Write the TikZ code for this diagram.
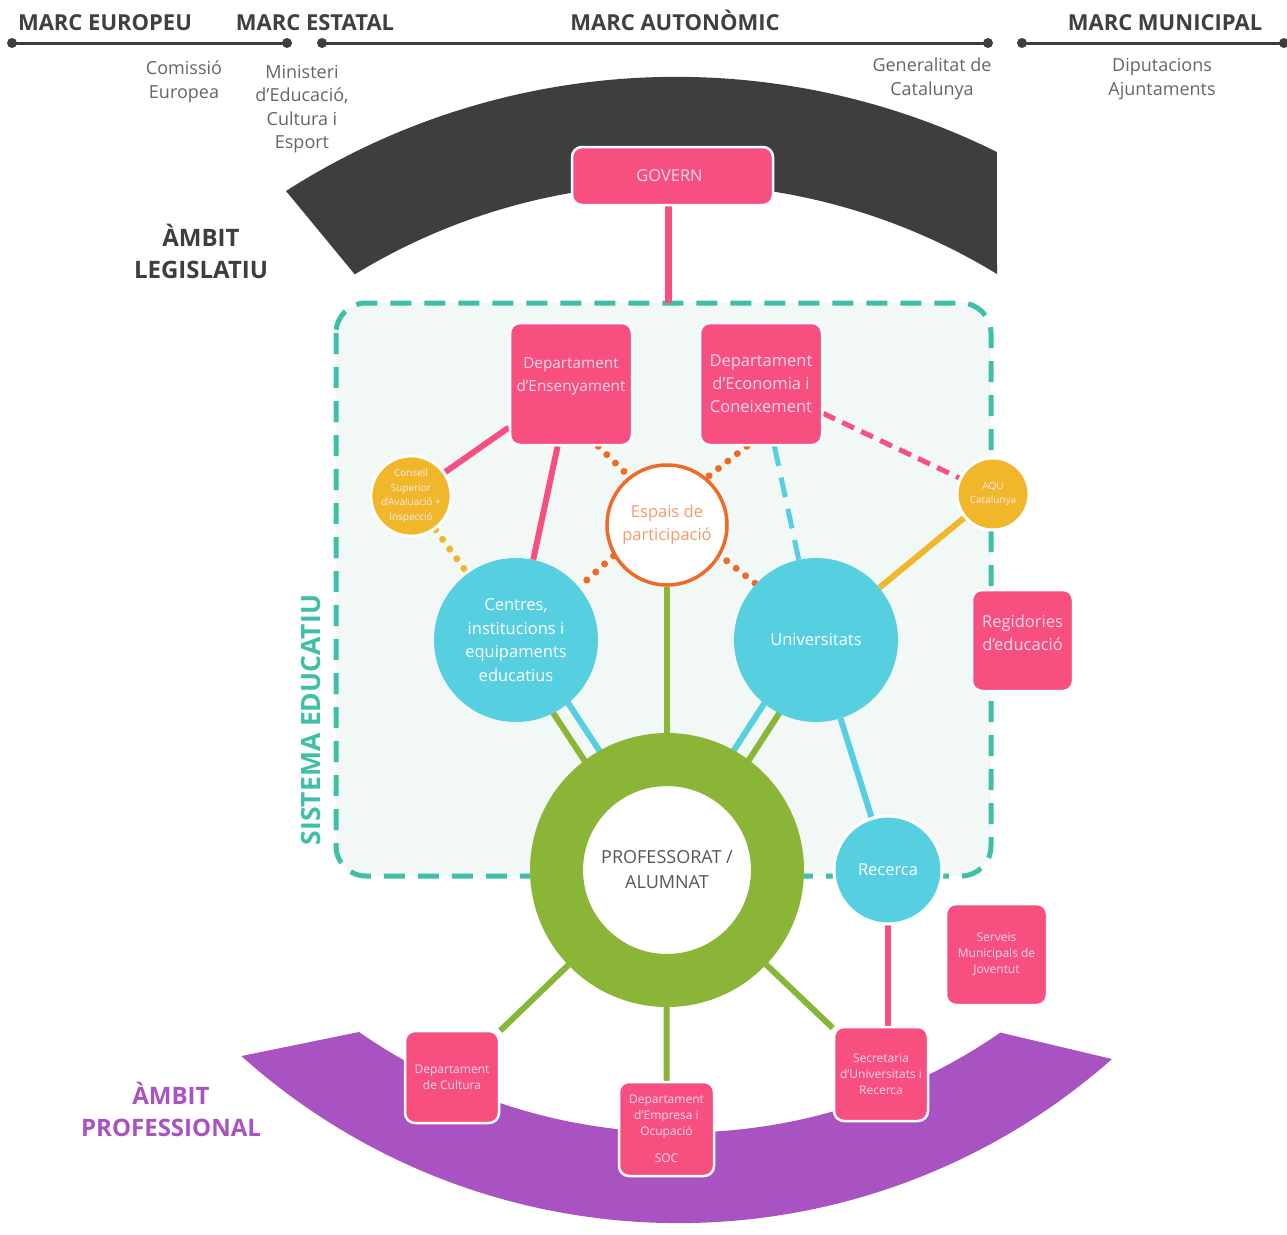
\documentclass[tikz,border=0pt]{standalone}
\usepackage{fontspec}
\setmainfont{Open Sans}
\usetikzlibrary{calc}
\definecolor{dgray}{HTML}{3E3E3E}
\definecolor{hgray}{HTML}{404040}
\definecolor{tgray}{HTML}{666666}
\definecolor{cpink}{HTML}{F74F80}
\definecolor{ptext}{HTML}{FDD9E4}
\definecolor{cteal}{HTML}{3FBFA8}
\definecolor{boxfill}{HTML}{F2F8F6}
\definecolor{ccyan}{HTML}{56CFE0}
\definecolor{cgreen}{HTML}{8AB536}
\definecolor{cyellow}{HTML}{F0B72B}
\definecolor{corange}{HTML}{F06A25}
\definecolor{otext}{HTML}{F39A68}
\definecolor{cpurple}{HTML}{A953C3}
\pgfdeclarelayer{background}
\pgfdeclarelayer{edges}
\pgfsetlayers{background,edges,main}
\begin{document}
\begin{tikzpicture}[x=1pt,y=1pt,
  hdr/.style={font=\fontsize{22}{26}\selectfont\bfseries, text=hgray, anchor=base, inner sep=0pt},
  sub/.style={font=\fontsize{18}{23.5}\selectfont, text=tgray, align=center, inner sep=0pt},
  ambit/.style={font=\fontsize{24}{32}\selectfont\bfseries, align=center, inner sep=0pt},
  pinkbox/.style={rectangle, rounded corners=10pt, fill=cpink, draw=white, line width=2.5pt, text=ptext, align=center, inner sep=0pt},
  bigtxt/.style={font=\fontsize{16.5}{23}\selectfont},
  smalltxt/.style={font=\fontsize{12}{16}\selectfont},
  tinytxt/.style={font=\fontsize{10}{14.5}\selectfont},
  ycirc/.style={circle, fill=cyellow, draw=white, line width=3pt, text=ptext!60!white, align=center, inner sep=0pt},
  ccirc/.style={circle, fill=ccyan, text=white, align=center, inner sep=0pt},
  pinkline/.style={draw=cpink, line width=6pt},
  greenline/.style={draw=cgreen, line width=6pt},
  cyanline/.style={draw=ccyan, line width=6pt},
  yellowline/.style={draw=cyellow, line width=6pt},
  dots/.style={line width=7pt, line cap=round, dash pattern=on 0pt off 12pt},
  topline/.style={draw=dgray, line width=3pt},
]
\useasboundingbox (0,0) rectangle (1287,-1234);

% ---------- backgrounds ----------
\begin{pgfonlayer}{background}
\fill[white] (0,0) rectangle (1287,-1234);
\fill[dgray] (286,-191) arc[start angle=122.64, end angle=63.65, radius=723]
  -- (997,-274) arc[start angle=58.61, end angle=121.45, radius=616] -- cycle;
\fill[cpurple] (359,-1032) arc[start angle=235.2, end angle=304.7, radius=562.6]
  -- (1112,-1059) arc[start angle=311.46, end angle=228.15, radius=655] -- cycle;
\draw[cteal, line width=5pt, dash pattern=on 21pt off 13pt, fill=boxfill, rounded corners=30pt]
  (336,-303) rectangle (991,-876);
% top scale
\draw[topline] (12,-43) -- (287,-43);
\draw[topline] (322,-43) -- (988,-43);
\draw[topline] (1022,-43) -- (1295,-43);
\fill[dgray] (12,-43) circle (5) (287,-43) circle (5) (322,-43) circle (5)
  (988,-43) circle (5) (1022,-43) circle (5) (1284,-43) circle (5);
\end{pgfonlayer}

% ---------- texts ----------
\node[hdr] (meu) at (105,-30) {MARC EUROPEU};
\node[hdr] (mes) at (315,-30) {MARC ESTATAL};
\node[hdr] (mau) at (675,-30) {MARC AUTONÒMIC};
\node[hdr] (mmu) at (1165,-30) {MARC MUNICIPAL};

\node[sub] (com) at (184,-82) {Comissió\\Europea};
\node[sub] (min) at (302,-109) {Ministeri\\d’Educació,\\Cultura i\\Esport};
\node[sub] (gen) at (932,-79) {Generalitat de\\Catalunya};
\node[sub] (dip) at (1162,-79) {Diputacions\\Ajuntaments};

\node[ambit, text=dgray] (aleg) at (201,-251) {ÀMBIT\\LEGISLATIU};
\node[ambit, text=cpurple] (aprof) at (171,-1109) {ÀMBIT\\PROFESSIONAL};
\node[rotate=90, font=\fontsize{26.5}{30}\selectfont\bfseries, text=cteal, inner sep=0pt] (sist) at (311,-720) {SISTEMA EDUCATIU};

% ---------- nodes ----------
\node[pinkbox, bigtxt, minimum width=201pt, minimum height=58pt] (gov) at (672.5,-176) {\hspace*{-6pt}GOVERN};
\coordinate (boxtop) at (668,-303);
\node[pinkbox, font=\fontsize{15.3}{23}\selectfont, minimum width=122pt, minimum height=122pt] (ens) at (571,-384) {Departament\\d’Ensenyament\\[-4pt]\mbox{}};
\node[pinkbox, bigtxt, minimum width=122pt, minimum height=122pt] (econ) at (761,-384) {Departament\\d’Economia i\\Coneixement};
\node[pinkbox, bigtxt, minimum width=101pt, minimum height=101pt] (reg) at (1022.5,-640.5) {Regidories\\d’educació\\[-8pt]\mbox{}};
\node[pinkbox, smalltxt, minimum width=101pt, minimum height=101pt] (serv) at (996.5,-954.5) {Serveis\\Municipals de\\Joventut};
\node[pinkbox, smalltxt, minimum width=94pt, minimum height=92pt] (cult) at (452,-1077) {Departament\\de Cultura};
\node[pinkbox, smalltxt, minimum width=95pt, minimum height=94pt] (emp) at (666.5,-1129) {Departament\\d’Empresa i\\Ocupació\\[11pt]SOC};
\node[pinkbox, smalltxt, minimum width=94pt, minimum height=94pt] (sec) at (881,-1074) {Secretaria\\d’Universitats i\\Recerca};

\node[ycirc, tinytxt, minimum size=74pt] (cons) at (411,-496) {Consell\\Superior\\d’Avaluació +\\Inspecció};
\node[ycirc, tinytxt, minimum size=72pt] (aqu) at (993,-494) {AQU\\Catalunya};
\node[circle, fill=white, draw=corange, line width=3.5pt, minimum size=120pt, text=otext, align=center, inner sep=0pt, bigtxt] (esp) at (667,-525) {Espais de\\participació};
\node[ccirc, minimum size=164pt, font=\fontsize{16.5}{23.5}\selectfont] (cen) at (516,-640) {Centres,\\institucions i\\equipaments\\educatius};
\node[ccirc, bigtxt, minimum size=164pt] (univ) at (816,-640) {Universitats};
\node[circle, draw=cgreen, line width=53pt, fill=white, minimum size=221pt, inner sep=0pt, text=tgray!85!black, align=center, font=\fontsize{18}{25}\selectfont] (prof) at (667,-870) {PROFESSORAT /\\ALUMNAT};
\node[ccirc, bigtxt, draw=white, line width=3pt, minimum size=108pt] (rec) at (888,-870) {Recerca};

% ---------- connectors ----------
\begin{pgfonlayer}{edges}
\draw[pinkline, line width=7pt] (gov.south -| boxtop) -- (boxtop);
\draw[pinkline] (ens) -- (cons);
\draw[pinkline] (ens) -- (cen);
\draw[corange, dots] ([xshift=-35pt]ens.south east) -- (esp.128);
\draw[corange, dots] ([xshift=48pt]econ.south west) -- (esp.50);
\draw[corange, dots] (esp.210) -- (cen.40);
\draw[corange, dots, shorten <=8pt] (esp.-30) -- (univ.137);
\draw[cyellow, dots] (cons) -- (cen);
\draw[ccyan, line width=5pt, dash pattern=on 20pt off 12pt] (econ) -- (univ);
\draw[cpink, line width=5pt, dash pattern=on 13pt off 8pt] (econ) -- (aqu);
\draw[yellowline] (aqu) -- (univ);
\draw[greenline] (esp) -- (prof);
\draw[greenline] ([shift={(-7.5,-4.9)}]cen.center) -- ([shift={(-7.5,-4.9)}]prof.center);
\draw[cyanline] ([shift={(7.5,4.9)}]cen.center) -- ([shift={(7.5,4.9)}]prof.center);
\draw[greenline] ([shift={(7.5,-4.9)}]univ.center) -- ([shift={(7.5,-4.9)}]prof.center);
\draw[cyanline] ([shift={(-7.5,4.9)}]univ.center) -- ([shift={(-7.5,4.9)}]prof.center);
\draw[cyanline] (univ) -- (rec);
\draw[pinkline] (rec.center) -- (rec.center |- sec.north);
\draw[greenline] (prof) -- (cult);
\draw[greenline] (prof) -- (emp);
\draw[greenline] (prof) -- (sec);
\end{pgfonlayer}
\end{tikzpicture}
\end{document}
